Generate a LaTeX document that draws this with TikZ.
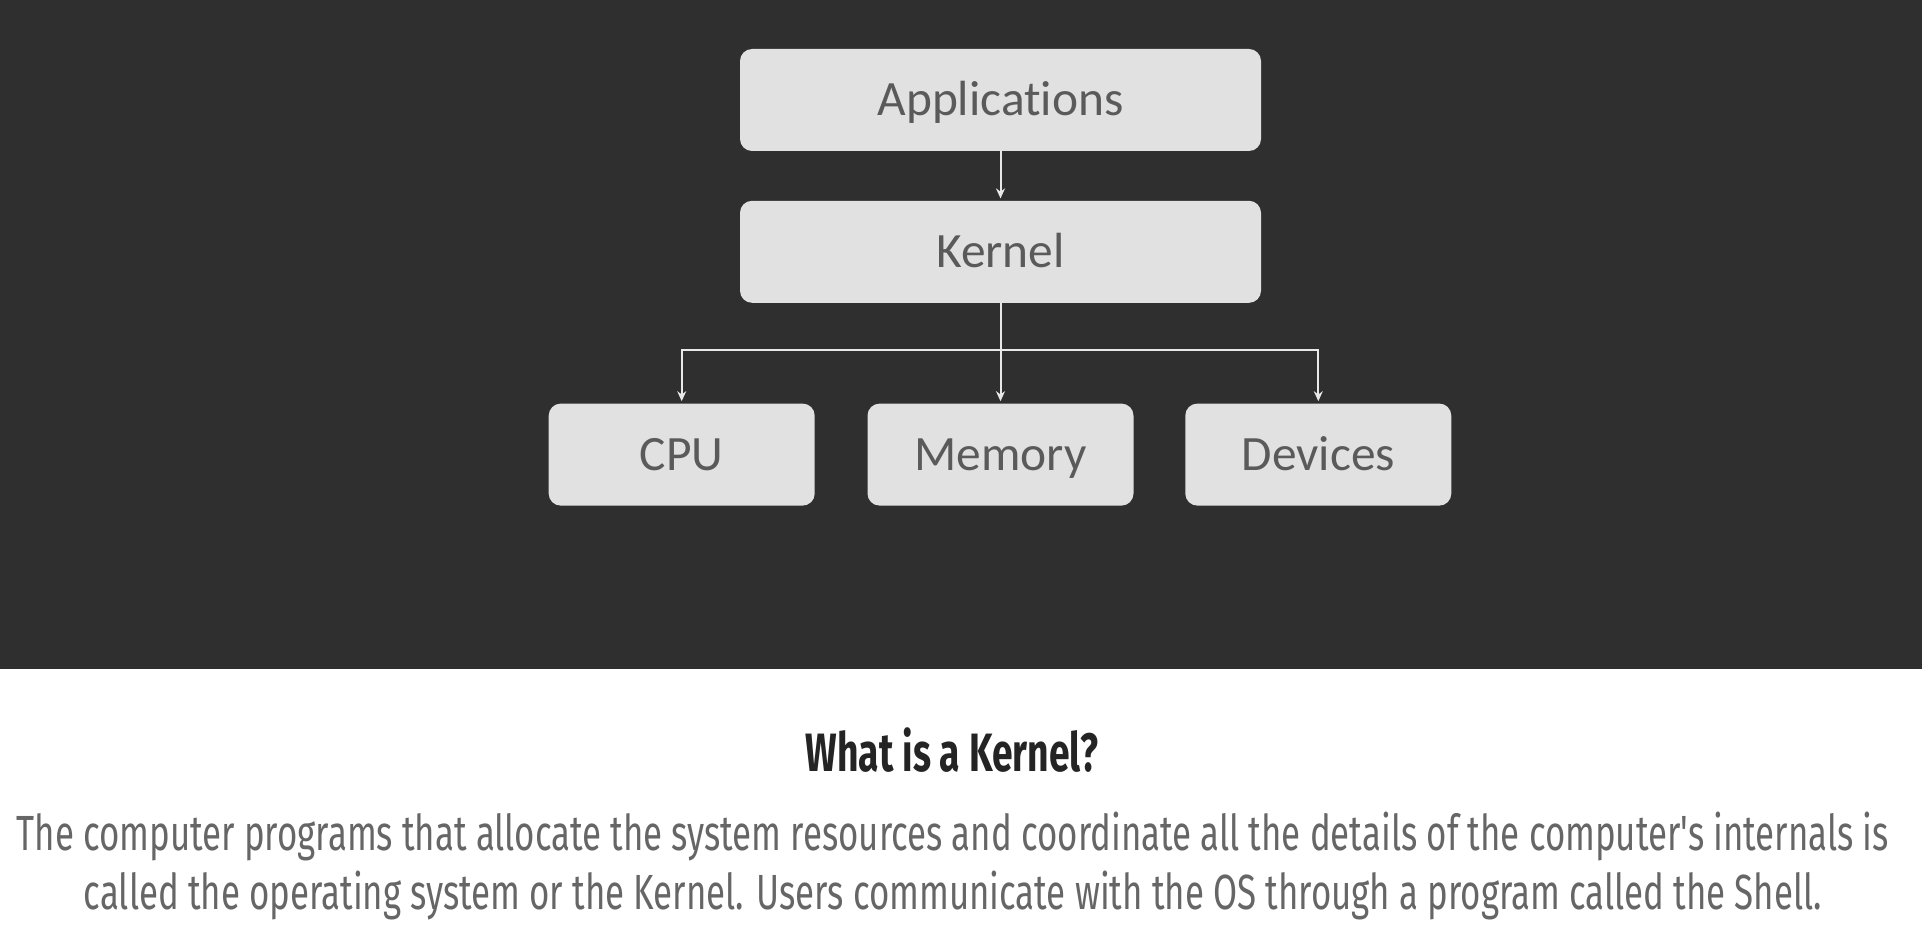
\documentclass[tikz,border=0pt]{standalone}
\usepackage{fontspec}
\usepackage{tikz}
\usetikzlibrary{arrows.meta,calc,positioning}
\setmainfont{Carlito}[Ligatures=NoCommon]
\newfontfamily\titlefont[FakeStretch=0.69]{Fira Sans}
\newfontfamily\captionfont[FakeStretch=0.705]{Fira Sans}
\definecolor{slideDark}{HTML}{2F2F2F}
\definecolor{boxFill}{HTML}{E1E1E1}
\definecolor{boxText}{HTML}{5A5A5A}
\definecolor{lineGray}{HTML}{E8E8E8}
\definecolor{captionGray}{HTML}{666666}
\definecolor{titleDark}{HTML}{242424}

\begin{document}
\begin{tikzpicture}[x=0.5pt,y=-0.5pt,
    layer/.style={fill=boxFill, rounded corners=6pt, inner sep=0pt,
      minimum width=260.5pt, minimum height=51pt, text=boxText,
      text height=16pt, text depth=0pt,
      font=\fontsize{24.7}{28}\selectfont},
    part/.style={layer, minimum width=133pt},
    link/.style={draw=lineGray, line width=1pt, shorten >=1pt,
      -{Stealth[length=5pt,width=4.5pt]}}]

      % draw the slide background
      \fill[slideDark] (0,0) rectangle (1922,669);
      \fill[white] (0,669) rectangle (1922,936);
      \useasboundingbox (0,0) rectangle (1922,936);

      % draw the layers
      \node[layer] (apps) at (1000.5,100) {Applications};
      \node[layer, below=24.5pt of apps] (kernel) {Kernel};
      \node[part, below=50pt of kernel] (mem) {Memory};
      \node[part, left=26pt of mem] (cpu) {CPU};
      \node[part, right=25.5pt of mem] (dev) {Devices};

      % draw the links
      \draw[link] (apps) -- (kernel);
      \coordinate (split) at ($(kernel.south)+(0,47)$);
      \foreach \p in {cpu,mem,dev}
        \draw[link] (kernel.south) -- (split) -| (\p.north);

      % draw the caption
      \node[text=titleDark, font=\titlefont\bfseries\fontsize{27}{30}\selectfont]
        (title) at (952,750) {What is a Kernel?};
      \node[text=captionGray, align=center,
        font=\captionfont\fontsize{24.7}{29.5}\selectfont]
        (caption) at (953,866) {The computer programs that allocate the system resources and coordinate all the details of the computer's internals is\\
        called the operating system or the Kernel. Users communicate with the OS through a program called the Shell.};

    \end{tikzpicture}
\end{document}
